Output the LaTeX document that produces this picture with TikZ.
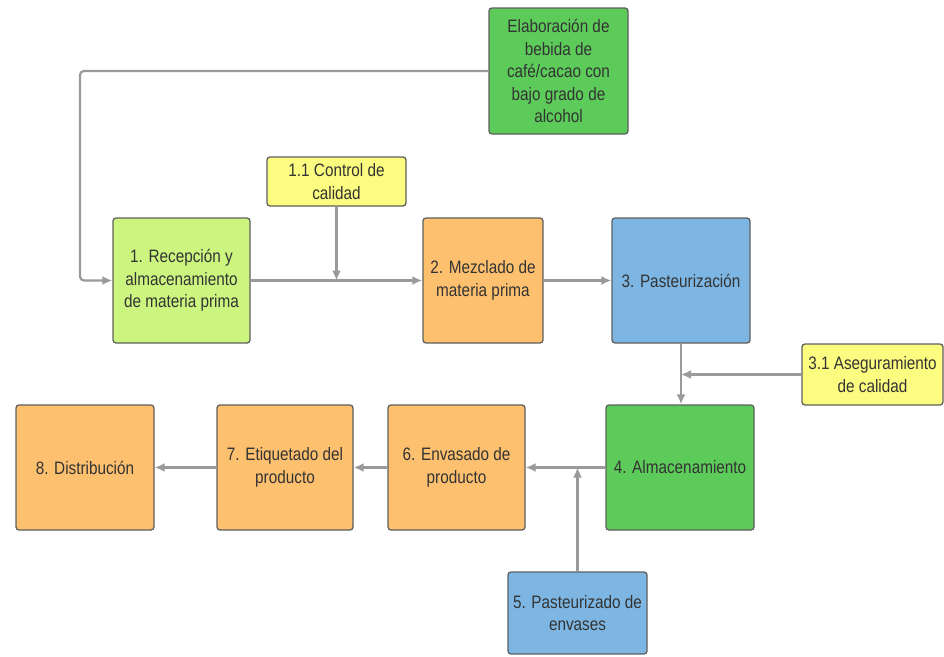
\documentclass[tikz,border=0pt]{standalone}
\usepackage{fontspec}
\setmainfont[FakeStretch=0.85]{Liberation Sans}
\usetikzlibrary{arrows.meta}

\definecolor{limeg}{HTML}{CCF580}
\definecolor{orangeb}{HTML}{FDC06F}
\definecolor{blueb}{HTML}{7DB6E2}
\definecolor{greenb}{HTML}{5CCB5A}
\definecolor{yellowb}{HTML}{FCFC80}
\definecolor{edgeg}{HTML}{5F5F5F}
\definecolor{lineg}{HTML}{9A9A9A}
\definecolor{textg}{HTML}{333333}

\begin{document}
\begin{tikzpicture}[x=1pt,y=-1pt,
	box/.style={draw=edgeg,line width=1.3pt,rounded corners=3pt,align=center,text=textg,
		font=\fontsize{18}{22.5}\selectfont,inner sep=0pt},
	conn/.style={->,>={Latex[length=10pt,width=9pt]},line width=2.2pt,color=lineg,rounded corners=4pt}]
	\useasboundingbox (0,0) rectangle (944,656);
	% upper row
	\node[box,fill=greenb,minimum width=139pt,minimum height=126pt] (elab) at (558.5,71){Elaboración de\\bebida de\\café/cacao con\\bajo grado de\\alcohol};
	\node[box,fill=yellowb,minimum width=139pt,minimum height=49pt] (ctrl) at (336.5,181.5){1.1 Control de\\calidad};
	\node[box,fill=limeg,minimum width=137pt,minimum height=125pt] (p1) at (181.5,280.5){1. Recepción y\\almacenamiento\\de materia prima};
	\node[box,fill=orangeb,minimum width=120pt,minimum height=125pt] (p2) at (483,280.5){2. Mezclado de\\materia prima};
	\node[box,fill=blueb,minimum width=138pt,minimum height=125pt] (p3) at (681,280.5){3. Pasteurización};
	\node[box,fill=yellowb,minimum width=141pt,minimum height=61pt] (asg) at (872.5,374.5){3.1 Aseguramiento\\de calidad};
	% lower row
	\node[box,fill=greenb,minimum width=148pt,minimum height=125pt] (p4) at (680,467.5){4. Almacenamiento};
	\node[box,fill=orangeb,minimum width=137pt,minimum height=125pt] (p6) at (456.5,467.5){6. Envasado de\\producto};
	\node[box,fill=orangeb,minimum width=136pt,minimum height=125pt] (p7) at (285,467.5){7. Etiquetado del\\producto};
	\node[box,fill=orangeb,minimum width=138pt,minimum height=125pt] (p8) at (85,467.5){8. Distribución};
	\node[box,fill=blueb,minimum width=139pt,minimum height=82pt] (p5) at (577.5,613){5. Pasteurizado de\\envases};
	% joints
	\coordinate (c1) at (80,71);
	\coordinate (j1) at (ctrl.south |- p1.east);
	\coordinate (j2) at (p3.south |- asg.west);
	\coordinate (j3) at (p5.north |- p4.west);
	% connectors
	\draw[conn] (elab.west) -- (c1) |- (p1.west);
	\draw[conn] (p1.east) -- (p2.west);
	\draw[conn] (ctrl.south) -- (j1);
	\draw[conn] (p2.east) -- (p3.west);
	\draw[conn] (p3.south) -- (p3.south |- p4.north);
	\draw[conn] (asg.west) -- (j2);
	\draw[conn] (p4.west) -- (p6.east);
	\draw[conn] (p5.north) -- (j3);
	\draw[conn] (p6.west) -- (p7.east);
	\draw[conn] (p7.west) -- (p8.east);
\end{tikzpicture}
\end{document}
